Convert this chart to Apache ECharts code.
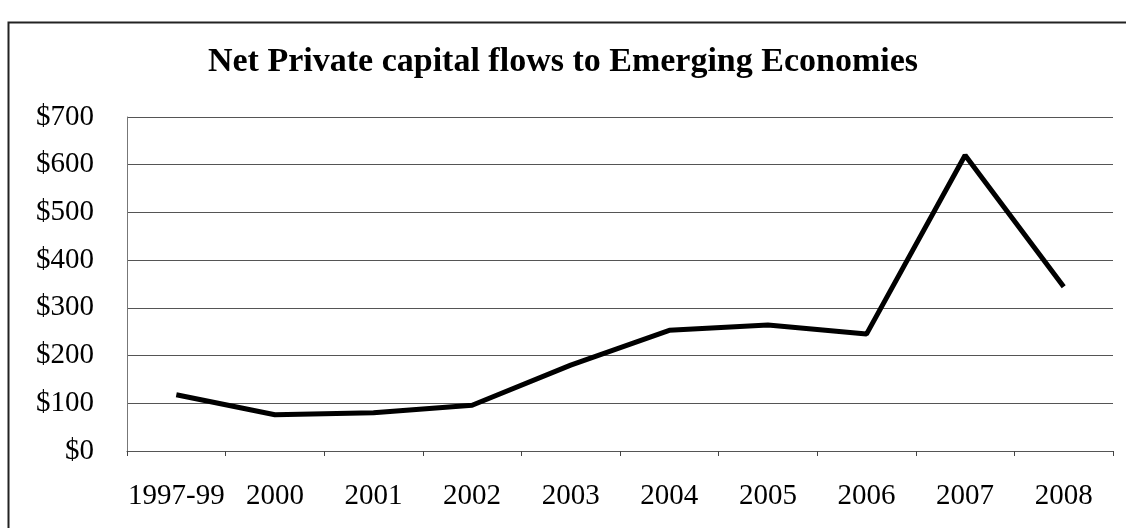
<!DOCTYPE html>
<html><head><meta charset="utf-8">
<script src="https://cdn.jsdelivr.net/npm/echarts@6/dist/echarts.min.js"></script>
<style>html,body{margin:0;padding:0;background:#fff}#c{width:1126px;height:528px}</style>
</head><body><div id="c"></div>
<script>
const categories = ['1997-99','2000','2001','2002','2003','2004','2005','2006','2007','2008'];
const flows = [118, 76, 80, 96, 180, 253, 264, 245, 620, 344];
const yTicks = [0, 100, 200, 300, 400, 500, 600, 700];
const title = 'Net Private capital flows to Emerging Economies';

const chart = echarts.init(document.getElementById('c'));
const serif = '"Liberation Serif", "DejaVu Serif", serif';
chart.setOption({
  animation: false,
  backgroundColor: '#fff',
  graphic: [{
    type: 'rect', left: 6, top: 20, z: -1,
    shape: { width: 1130, height: 520 },
    style: { fill: 'none', stroke: '#222', lineWidth: 2 }
  }],
  title: {
    text: title, left: 'center', top: 40,
    textStyle: { fontFamily: serif, fontWeight: 'bold', fontSize: 34, color: '#000' }
  },
  grid: { left: 127, right: 13, top: 117, bottom: 77 },
  xAxis: {
    type: 'category', data: categories, boundaryGap: true,
    axisLine: { lineStyle: { color: '#555', width: 1 } },
    axisTick: { show: true, length: 5, lineStyle: { color: '#444' } },
    axisLabel: { fontFamily: serif, fontSize: 29, color: '#000', margin: 31, interval: 0 }
  },
  yAxis: {
    type: 'value', min: 0, max: yTicks[yTicks.length - 1], interval: 100,
    axisLine: { show: true, lineStyle: { color: '#777', width: 1 } },
    axisTick: { show: false },
    splitLine: { lineStyle: { color: '#555', width: 1 } },
    axisLabel: { fontFamily: serif, fontSize: 29, color: '#000', margin: 33, formatter: v => '$' + v }
  },
  series: [{
    type: 'line', data: flows, symbol: 'none',
    lineStyle: { color: '#000', width: 5 }
  }]
});
</script></body></html>
